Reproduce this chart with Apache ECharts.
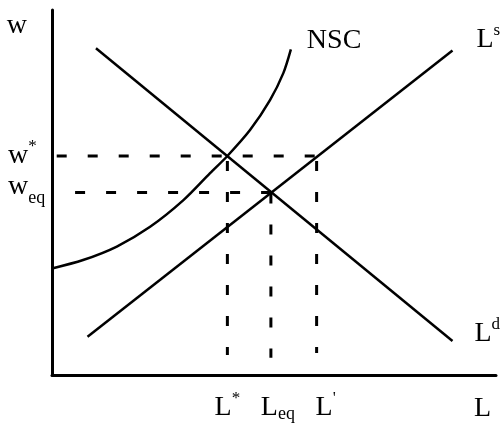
<!DOCTYPE html>
<html>
<head>
<meta charset="utf-8">
<script src="https://cdn.jsdelivr.net/npm/echarts@6/dist/echarts.min.js"></script>
<style>
  html, body { margin: 0; padding: 0; background: #fff; }
  #chart { width: 504px; height: 423px; }
</style>
</head>
<body>
<div id="chart"></div>
<script>
  // equilibrium points (x = L, y = w)
  const lStar = 39.5
  const lEq = 49.3
  const lPrime = 59.6
  const wStar = 60
  const wEq = 50

  // curves
  const demand = [[9.9, 89.5], [90.2, 9.3]]
  const supply = [[8.0, 10.5], [90.2, 88.9]]
  const nsc = [[0, 29.2], [7.0, 31.5], [14.6, 35.2], [22.1, 40.6], [29.6, 47.9], [35.6, 55.3],
    [39.5, 60.0], [44.6, 67.1], [49.1, 75.3], [52.1, 82.7], [53.8, 89.2]]

  // where the dashed guides start / stop
  const wEqStart = 5.2
  const guideEnds = [5.5, 4.7, 6.0]

  // tick labels
  const xTicks = [lStar, lEq, lPrime]
  const xTickLabels = ['{b|L}{sup|*}', '{bq|L}{sub|eq}', "{bp|L}{sup|'}"]
  const yTicks = [wStar, wEq]
  const yTickLabels = ['{b|w}{sup|*}', '{bs|w}{sub|eq}']

  const font = 'Liberation Serif'
  const rich = {
    b: { fontFamily: font, fontSize: 28, lineHeight: 36, color: '#000' },
    bq: { fontFamily: font, fontSize: 28, lineHeight: 36, color: '#000', padding: [0, 0, 0, 14] },
    bp: { fontFamily: font, fontSize: 28, lineHeight: 36, color: '#000', padding: [0, 0, 0, 18] },
    bs: { fontFamily: font, fontSize: 28, lineHeight: 36, color: '#000', padding: [0, 0, 12, 0] },
    sup: { fontFamily: font, fontSize: 17, lineHeight: 17, verticalAlign: 'top', color: '#000' },
    sub: { fontFamily: font, fontSize: 18, lineHeight: 18, verticalAlign: 'top', padding: [15, 0, 0, 0], color: '#000' }
  }

  const solid = { color: '#000', width: 2.5 }
  const dashed = { color: '#000', width: 3, type: [10, 21], dashOffset: 26 }

  function curve (name, data, label, dx, dy, smooth) {
    return {
      name: name,
      type: 'line',
      data: data,
      smooth: smooth || false,
      symbol: 'none',
      silent: true,
      lineStyle: solid,
      endLabel: {
        show: true,
        formatter: label,
        distance: 0,
        offset: [dx, dy],
        rich: rich
      }
    }
  }

  function guide (data, offset) {
    return {
      type: 'line',
      data: data,
      symbol: 'none',
      silent: true,
      lineStyle: Object.assign({}, dashed, { dashOffset: offset })
    }
  }

  let option = {
    animation: false,
    backgroundColor: '#fff',
    grid: { left: 52, right: 8, top: 10, bottom: 48, outerBoundsMode: 'none', containLabel: false },
    xAxis: {
      type: 'value',
      min: 0,
      max: 100,
      name: 'L',
      nameLocation: 'end',
      nameGap: -22,
      nameTextStyle: { fontFamily: font, fontSize: 28, lineHeight: 36, color: '#000', align: 'left', verticalAlign: 'top', padding: [16, 0, 0, 0] },
      axisLine: { show: true, lineStyle: { color: '#000', width: 3 } },
      axisTick: { show: false },
      splitLine: { show: false },
      axisLabel: {
        customValues: xTicks,
        margin: 15,
        hideOverlap: false,
        showMinLabel: true,
        showMaxLabel: true,
        formatter: function (v) { return xTickLabels[xTicks.indexOf(v)] || '' },
        rich: rich
      }
    },
    yAxis: {
      type: 'value',
      min: 0,
      max: 100,
      name: 'w',
      nameLocation: 'end',
      nameGap: -16,
      nameTextStyle: { fontFamily: font, fontSize: 28, lineHeight: 36, color: '#000', align: 'right', verticalAlign: 'middle', padding: [0, 25, 0, 0] },
      axisLine: { show: true, lineStyle: { color: '#000', width: 3 } },
      axisTick: { show: false },
      splitLine: { show: false },
      axisLabel: {
        customValues: yTicks,
        margin: 44,
        align: 'left',
        hideOverlap: false,
        showMinLabel: true,
        showMaxLabel: true,
        formatter: function (v) { return yTickLabels[yTicks.indexOf(v)] || '' },
        rich: rich
      }
    },
    series: [
      curve('NSC', nsc, '{b|NSC}', 16, -9, 0.3),
      curve('Ls', supply, '{b|L}{sup|s}', 24, -10.5),
      curve('Ld', demand, '{b|L}{sup|d}', 22, -7),
      guide([[0, wStar], [lPrime, wStar]], 26.3),
      guide([[wEqStart, wEq], [lEq, wEq]], 0),
      guide([[lStar, wStar], [lStar, guideEnds[0]]], 26),
      guide([[lEq, wEq], [lEq, guideEnds[1]]], 30),
      guide([[lPrime, wStar], [lPrime, guideEnds[2]]], 26)
    ]
  }

  let chart = echarts.init(document.getElementById('chart'))
  chart.setOption(option)
  window.addEventListener('resize', () => {
    chart.resize()
  })
</script>
</body>
</html>
